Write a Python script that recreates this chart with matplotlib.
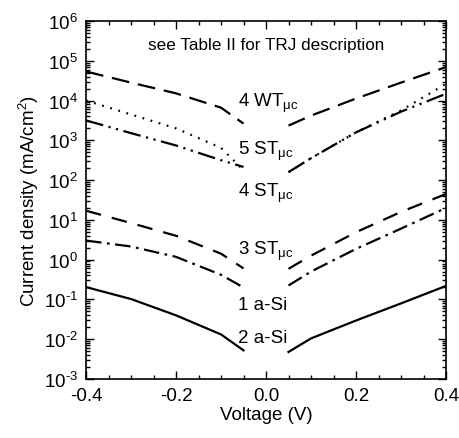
import numpy as np
import matplotlib
matplotlib.use("Agg")
import matplotlib.pyplot as plt
from matplotlib.ticker import LogLocator, MultipleLocator, NullFormatter

plt.rcParams["font.family"] = ["Liberation Sans", "DejaVu Sans"]
plt.rcParams["mathtext.fontset"] = "custom"
plt.rcParams["mathtext.rm"] = "Liberation Sans"
plt.rcParams["mathtext.it"] = "Liberation Sans"

v_neg = [-0.4, -0.3, -0.2, -0.1, -0.05]
v_pos = [0.05, 0.1, 0.2, 0.3, 0.4]

# log10 of current density
wt4_neg = [4.73, 4.45, 4.18, 3.82, 3.42]
wt4_pos = [3.37, 3.62, 4.05, 4.45, 4.84]
st5_neg = [4.00, 3.65, 3.30, 2.81, 2.25]
st5_pos = [2.20, 2.55, 3.20, 3.75, 4.42]
st4_neg = [3.50, 3.18, 2.87, 2.50, 2.33]
st4_pos = [2.20, 2.55, 3.20, 3.72, 4.17]
st3_neg = [1.23, 0.92, 0.60, 0.15, -0.22]
st3_pos = [-0.23, 0.10, 0.69, 1.20, 1.65]
asi1_neg = [0.48, 0.33, 0.07, -0.38, -0.70]
asi1_pos = [-0.65, -0.30, 0.27, 0.78, 1.30]
asi2_neg = [-0.69, -0.99, -1.40, -1.88, -2.28]
asi2_pos = [-2.32, -1.98, -1.53, -1.10, -0.66]

labels = ["4 WT$_{\\mu c}$", "5 ST$_{\\mu c}$", "4 ST$_{\\mu c}$",
          "3 ST$_{\\mu c}$", "1 a-Si", "2 a-Si"]
label_y = [7.2e3, 4.6e2, 4.0e1, 1.4e0, 5.8e-2, 8.5e-3]

curves = [
    (wt4_neg, wt4_pos, (0, (8, 4))),
    (st5_neg, st5_pos, (0, (0.8, 3))),
    (st4_neg, st4_pos, (0, (8, 2.5, 1, 2.5, 1, 2.5))),
    (st3_neg, st3_pos, (0, (7, 5))),
    (asi1_neg, asi1_pos, (0, (7, 2.5, 1.2, 2.5))),
    (asi2_neg, asi2_pos, "-"),
]

fig = plt.figure(figsize=(4.6, 4.39), dpi=100)
ax = fig.add_axes([0.187, 0.1344, 0.7826, 0.8156])

for neg, pos, ls in curves:
    ax.plot(v_neg, 10 ** np.array(neg), color="black", lw=1.6, linestyle=ls)
    ax.plot(v_pos, 10 ** np.array(pos), color="black", lw=1.6, linestyle=ls)

for lab, y in zip(labels, label_y):
    ax.text(-0.063, y, lab, fontsize=13.5, ha="left", va="baseline")

ax.text(0.0, 2.5e5, "see Table II for TRJ description", fontsize=12.3,
        ha="center", va="center")

ax.set_yscale("log")
ax.set_xlim(-0.4, 0.4)
ax.set_ylim(1e-3, 1e6)
ax.xaxis.set_major_locator(MultipleLocator(0.2))
ax.xaxis.set_minor_locator(MultipleLocator(0.05))
ax.set_xticks([-0.4, -0.2, 0.0, 0.2, 0.4])
ax.set_xticklabels(["-0.4", "-0.2", "0.0", "0.2", "0.4"])
ax.yaxis.set_major_locator(LogLocator(base=10, numticks=20))
ax.yaxis.set_minor_locator(LogLocator(base=10, subs=np.arange(2, 10), numticks=20))
ax.yaxis.set_minor_formatter(NullFormatter())
ax.set_yticks([10.0 ** k for k in range(-3, 7)])
ax.set_yticklabels(["10$^{%d}$" % k if k >= 0 else "10$^{\\text{-}%d}$" % -k
                    for k in range(-3, 7)])

ax.tick_params(which="both", direction="in", top=True, right=True,
               labelsize=13.5, width=1.0)
ax.tick_params(which="major", length=6, pad=6)
ax.tick_params(which="minor", length=3)
for s in ax.spines.values():
    s.set_linewidth(1.2)

ax.set_xlabel("Voltage (V)", fontsize=13.5, labelpad=1)
ax.set_ylabel("Current density (mA/cm$^2$)", fontsize=13.5, labelpad=2)

fig.savefig("out.png", dpi=100)
